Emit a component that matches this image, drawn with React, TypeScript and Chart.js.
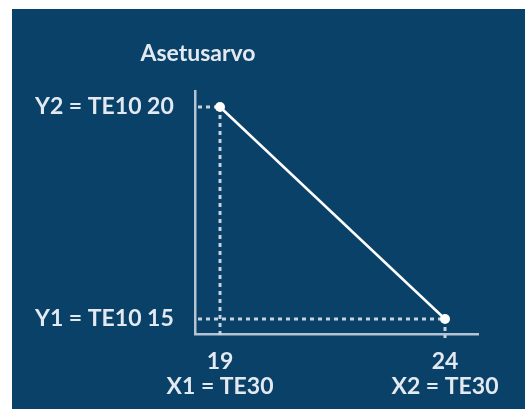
import React, { useEffect, useRef } from "react";
import { Chart, registerables } from "chart.js";

Chart.register(...registerables);

// ---- data ----
const xValues = [19, 24];
const yValues = [20, 15];
const xTickValues = [19, 24];
const yTickValues = [15, 20];
const xTickNames = ["X1 = TE30", "X2 = TE30"];
const yTickNames = ["Y1 = TE10", "Y2 = TE10"];
const titleText = "Asetusarvo";
const xRange = [18.444, 24.733];
const yRange = [14.646, 20.377];

const NAVY = "rgb(10, 65, 104)";
const TEXT = "#e2e9f0";
const AXIS = "#b5c4d3";
const GUIDE = "#c6d3df";
const FONT = "Lato, 'Open Sans', sans-serif";

const guidePlugin = {
  id: "guides",
  beforeDatasetsDraw(chart: any) {
    const { ctx, chartArea, scales } = chart;
    const x = scales.x;
    const y = scales.y;
    ctx.save();
    ctx.strokeStyle = GUIDE;
    ctx.lineWidth = 3;
    ctx.setLineDash([4, 4]);
    xValues.forEach((xv, i) => {
      const px = x.getPixelForValue(xv);
      const py = y.getPixelForValue(yValues[i]);
      ctx.beginPath();
      ctx.moveTo(chartArea.left + 3, py);
      ctx.lineTo(px, py);
      ctx.stroke();
      ctx.beginPath();
      ctx.moveTo(px, py);
      ctx.lineTo(px, chartArea.bottom + 4);
      ctx.stroke();
    });
    ctx.restore();
  },
  afterDraw(chart: any) {
    const { ctx, chartArea } = chart;
    ctx.save();
    ctx.fillStyle = TEXT;
    ctx.font = `bold 23px ${FONT}`;
    ctx.textAlign = "center";
    ctx.textBaseline = "alphabetic";
    ctx.fillText(titleText, chartArea.left + 3, chartArea.top - 30);
    ctx.restore();
  },
};

export default function App() {
  const canvasRef = useRef<HTMLCanvasElement | null>(null);

  useEffect(() => {
    const canvas = canvasRef.current;
    if (!canvas) return;
    const chart = new Chart(canvas, {
      type: "scatter",
      data: {
        datasets: [
          {
            data: xValues.map((x, i) => ({ x, y: yValues[i] })),
            showLine: true,
            borderColor: "#ffffff",
            borderWidth: 2.5,
            pointRadius: 5,
            pointBackgroundColor: "#ffffff",
            pointBorderColor: "#ffffff",
            pointBorderWidth: 0,
          },
        ],
      },
      options: {
        animation: false,
        responsive: false,
        layout: { padding: { top: 82, right: 47, left: 23, bottom: 0 } },
        plugins: {
          legend: { display: false },
          tooltip: { enabled: false },
          title: { display: false },
        },
        scales: {
          x: {
            type: "linear",
            min: xRange[0],
            max: xRange[1],
            grid: { display: false, drawTicks: false },
            border: { display: true, color: AXIS, width: 2.5 },
            afterBuildTicks: (axis: any) => {
              axis.ticks = xTickValues.map((v) => ({ value: v }));
            },
            afterFit: (scale: any) => {
              scale.height = 75;
            },
            ticks: {
              color: TEXT,
              padding: 15,
              maxRotation: 0,
              autoSkip: false,
              font: { family: FONT, size: 23, weight: "bold", lineHeight: 1.09 },
              callback: (v: any) => {
                const i = xTickValues.indexOf(Number(v));
                return [String(v), xTickNames[i]];
              },
            },
          },
          y: {
            type: "linear",
            min: yRange[0],
            max: yRange[1],
            grid: { display: false, drawTicks: false },
            border: { display: true, color: AXIS, width: 2.5 },
            afterBuildTicks: (axis: any) => {
              axis.ticks = yTickValues.map((v) => ({ value: v }));
            },
            afterFit: (scale: any) => {
              scale.width = 160;
            },
            ticks: {
              color: TEXT,
              crossAlign: "far",
              autoSkip: false,
              font: { family: FONT, size: 23, weight: "bold" },
              callback: (v: any) => {
                const i = yTickValues.indexOf(Number(v));
                return `${yTickNames[i]} ${v}`;
              },
            },
          },
        },
      },
      plugins: [guidePlugin],
    } as any);
    return () => chart.destroy();
  }, []);

  return (
    <div
      style={{
        position: "fixed",
        left: 0,
        top: 0,
        width: 525,
        height: 409,
        background: "#ffffff",
        overflow: "hidden",
      }}
    >
      <div
        style={{
          position: "absolute",
          left: 12,
          top: 9,
          width: 513,
          height: 400,
          background: NAVY,
        }}
      >
        <canvas
          ref={canvasRef}
          width={513}
          height={400}
          style={{ display: "block", width: 513, height: 400 }}
        />
      </div>
    </div>
  );
}
